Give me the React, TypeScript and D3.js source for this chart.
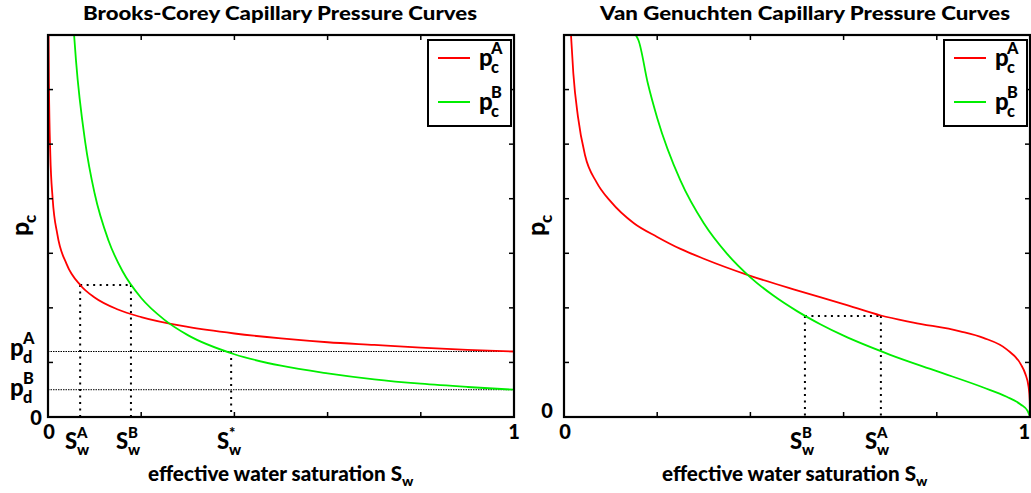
import React from 'react';
import * as d3 from 'd3';

// Brooks-Corey curves: effective saturation and capillary pressure samples
const bcSatA = [0.0012, 0.002, 0.005, 0.01, 0.02, 0.04, 0.07, 0.1, 0.15, 0.2, 0.3, 0.4, 0.5, 0.6, 0.7, 0.8, 0.9, 1];
const bcPcA = [7.0, 6.1, 4.8, 4.0, 3.35, 2.8, 2.41, 2.19, 1.97, 1.83, 1.65, 1.53, 1.44, 1.37, 1.32, 1.27, 1.23, 1.2];
const bcSatB = [0.056, 0.06, 0.08, 0.1, 0.13, 0.16, 0.2, 0.25, 0.3, 0.4, 0.5, 0.6, 0.7, 0.8, 0.9, 1];
const bcPcB = [7.0, 6.54, 5.03, 4.1, 3.23, 2.67, 2.18, 1.78, 1.5, 1.15, 0.94, 0.8, 0.69, 0.61, 0.55, 0.5];

// Van Genuchten curves
const vgSatA = [0.015, 0.02, 0.03, 0.045, 0.07, 0.1, 0.15, 0.2, 0.25, 0.3, 0.395, 0.5, 0.6, 0.68, 0.75, 0.85, 0.9, 0.95, 0.98, 0.99, 0.997, 0.9995, 1];
const vgPcA = [7.0, 6.3, 5.5, 4.8, 4.3, 3.95, 3.55, 3.3, 3.08, 2.9, 2.6, 2.32, 2.07, 1.86, 1.73, 1.57, 1.45, 1.24, 0.97, 0.79, 0.55, 0.3, 0];
const vgSatB = [0.154, 0.16, 0.18, 0.2, 0.25, 0.3, 0.35, 0.4, 0.45, 0.5, 0.55, 0.6, 0.7, 0.8, 0.9, 0.95, 0.98, 0.995, 1];
const vgPcB = [7.0, 6.9, 6.11, 5.48, 4.33, 3.55, 2.99, 2.56, 2.22, 1.94, 1.7, 1.49, 1.14, 0.84, 0.54, 0.37, 0.23, 0.11, 0];

// Reference levels and saturations marked on the axes
const bcEntryA = 1.2;
const bcEntryB = 0.5;
const bcSwA = 0.069;
const bcSwB = 0.178;
const bcSwStar = 0.393;
const bcLevel = 2.42;
const vgSwB = 0.517;
const vgSwA = 0.68;
const vgLevel = 1.85;

const xTicks = [0.2, 0.4, 0.6, 0.8];
const yTicks = [1, 2, 3, 4, 5, 6];
const xDomain: [number, number] = [0, 1];
const yDomain: [number, number] = [0, 7];

const RED = '#ff0000';
const GREEN = '#00ee00';
const FONT = 'Lato, "DejaVu Sans", sans-serif';

const zip = (s: number[], p: number[]) => s.map((v, i) => [v, p[i]] as [number, number]);

type Box = { left: number; right: number; top: number; bottom: number };

// "base" glyph with a stacked superscript and subscript
function Stacked({ x, y, base, sup, sub, size, off }: { x: number; y: number; base: string; sup?: string; sub?: string; size: number; off: number }) {
  const small = size * 0.68;
  return (
    <g fontFamily={FONT} fontWeight="900" fill="#000">
      <text x={x} y={y} fontSize={size}>{base}</text>
      {sup && <text x={x + off} y={y - size * 0.48} fontSize={small}>{sup}</text>}
      {sub && <text x={x + off} y={y + size * 0.28} fontSize={small}>{sub}</text>}
    </g>
  );
}

function Legend({ x, y }: { x: number; y: number }) {
  return (
    <g>
      <rect x={x} y={y} width={83} height={86} fill="#fff" stroke="#000" strokeWidth={2} />
      <line x1={x + 10} x2={x + 42} y1={y + 18} y2={y + 18} stroke={RED} strokeWidth={2} />
      <line x1={x + 10} x2={x + 42} y1={y + 62} y2={y + 62} stroke={GREEN} strokeWidth={2} />
      <Stacked x={x + 51} y={y + 26} base="p" sup="A" sub="c" size={24} off={12} />
      <Stacked x={x + 51} y={y + 70} base="p" sup="B" sub="c" size={24} off={12} />
    </g>
  );
}

function Plot({ box, id, curveA, curveB, children }: { box: Box; id: string; curveA: [number, number][]; curveB: [number, number][]; children: (x: d3.ScaleLinear<number, number>, y: d3.ScaleLinear<number, number>) => React.ReactNode }) {
  const x = d3.scaleLinear().domain(xDomain).range([box.left, box.right]);
  const y = d3.scaleLinear().domain(yDomain).range([box.bottom, box.top]);
  const line = d3.line<[number, number]>().x((d) => x(d[0])).y((d) => y(d[1])).curve(d3.curveMonotoneX);
  const tick = 5;
  return (
    <g>
      <defs>
        <clipPath id={id}>
          <rect x={box.left} y={box.top} width={box.right - box.left} height={box.bottom - box.top} />
        </clipPath>
      </defs>
      {children(x, y)}
      <g clipPath={`url(#${id})`}>
        <path d={line(curveA) || ''} fill="none" stroke={RED} strokeWidth={1.8} />
        <path d={line(curveB) || ''} fill="none" stroke={GREEN} strokeWidth={1.8} />
      </g>
      {xTicks.map((t) => (
        <g key={`x${t}`} stroke="#000" strokeWidth={1.5}>
          <line x1={x(t)} x2={x(t)} y1={box.bottom} y2={box.bottom - tick} />
          <line x1={x(t)} x2={x(t)} y1={box.top} y2={box.top + tick} />
        </g>
      ))}
      {yTicks.map((t) => (
        <g key={`y${t}`} stroke="#000" strokeWidth={1.5}>
          <line x1={box.left} x2={box.left + tick} y1={y(t)} y2={y(t)} />
          <line x1={box.right} x2={box.right - tick} y1={y(t)} y2={y(t)} />
        </g>
      ))}
      <rect x={box.left} y={box.top} width={box.right - box.left} height={box.bottom - box.top} fill="none" stroke="#000" strokeWidth={2.2} />
      <Legend x={box.right - 86} y={box.top + 5} />
    </g>
  );
}

const dotV = '2,4.5';
const fineH = '1.5,1';

export default function App() {
  const leftBox: Box = { left: 48, right: 514, top: 35, bottom: 417 };
  const rightBox: Box = { left: 564, right: 1030, top: 35, bottom: 417 };
  const titleStyle = { fontFamily: FONT, fontWeight: 900, fontSize: 19 } as const;
  const labelStyle = { fontFamily: FONT, fontWeight: 900, fontSize: 20 } as const;

  return (
    <svg width={1031} height={493} style={{ position: 'absolute', left: 0, top: 0, background: '#fff' }}>
      <text x={280} y={20} textAnchor="middle" style={titleStyle} textLength={394} lengthAdjust="spacingAndGlyphs">Brooks-Corey Capillary Pressure Curves</text>
      <text x={805} y={20} textAnchor="middle" style={titleStyle} textLength={410} lengthAdjust="spacingAndGlyphs">Van Genuchten Capillary Pressure Curves</text>

      <Plot box={leftBox} id="clipBC" curveA={zip(bcSatA, bcPcA)} curveB={zip(bcSatB, bcPcB)}>
        {(x, y) => (
          <g stroke="#000" fill="none">
            <line x1={x(0)} x2={x(1)} y1={y(bcEntryA)} y2={y(bcEntryA)} strokeWidth={1} strokeDasharray={fineH} />
            <line x1={x(0)} x2={x(1)} y1={y(bcEntryB)} y2={y(bcEntryB)} strokeWidth={1} strokeDasharray={fineH} />
            <line x1={x(bcSwA)} x2={x(bcSwB)} y1={y(bcLevel)} y2={y(bcLevel)} strokeWidth={2} strokeDasharray={dotV} />
            <line x1={x(bcSwA)} x2={x(bcSwA)} y1={y(bcLevel)} y2={y(0)} strokeWidth={2} strokeDasharray={dotV} />
            <line x1={x(bcSwB)} x2={x(bcSwB)} y1={y(bcLevel)} y2={y(0)} strokeWidth={2} strokeDasharray={dotV} />
            <line x1={x(bcSwStar)} x2={x(bcSwStar)} y1={y(bcEntryA)} y2={y(0)} strokeWidth={2} strokeDasharray={dotV} />
          </g>
        )}
      </Plot>

      <Plot box={rightBox} id="clipVG" curveA={zip(vgSatA, vgPcA)} curveB={zip(vgSatB, vgPcB)}>
        {(x, y) => (
          <g stroke="#000" fill="none">
            <line x1={x(vgSwB)} x2={x(vgSwA)} y1={y(vgLevel)} y2={y(vgLevel)} strokeWidth={2} strokeDasharray={dotV} />
            <line x1={x(vgSwB)} x2={x(vgSwB)} y1={y(vgLevel)} y2={y(0)} strokeWidth={2} strokeDasharray={dotV} />
            <line x1={x(vgSwA)} x2={x(vgSwA)} y1={y(vgLevel)} y2={y(0)} strokeWidth={2} strokeDasharray={dotV} />
          </g>
        )}
      </Plot>

      {/* axis end labels */}
      <g style={labelStyle}>
        <text x={36} y={425} textAnchor="middle">0</text>
        <text x={49} y={439} textAnchor="middle">0</text>
        <text x={514} y={439} textAnchor="middle">1</text>
        <text x={565} y={439} textAnchor="middle">0</text>
        <text x={547} y={418} textAnchor="middle">0</text>
        <text x={1030} y={439} textAnchor="end">1</text>
      </g>
      <Stacked x={10} y={356} base="p" sup="A" sub="d" size={24} off={13} />
      <Stacked x={10} y={396} base="p" sup="B" sub="d" size={24} off={13} />
      <Stacked x={65} y={449} base="S" sup="A" sub="w" size={22} off={12} />
      <Stacked x={116} y={449} base="S" sup="B" sub="w" size={22} off={12} />
      <Stacked x={217} y={449} base="S" sup="*" sub="w" size={22} off={12} />
      <Stacked x={790} y={449} base="S" sup="B" sub="w" size={22} off={12} />
      <Stacked x={865} y={449} base="S" sup="A" sub="w" size={22} off={12} />

      <g transform="translate(29,236) rotate(-90)">
        <Stacked x={0} y={0} base="p" sub="c" size={25} off={13} />
      </g>
      <g transform="translate(545,236) rotate(-90)">
        <Stacked x={0} y={0} base="p" sub="c" size={25} off={13} />
      </g>

      <text x={148} y={481} style={labelStyle}><tspan textLength={254} lengthAdjust="spacingAndGlyphs">effective water saturation S</tspan><tspan dy={5} fontSize={14}>w</tspan></text>
      <text x={662} y={481} style={labelStyle}><tspan textLength={254} lengthAdjust="spacingAndGlyphs">effective water saturation S</tspan><tspan dy={5} fontSize={14}>w</tspan></text>
    </svg>
  );
}
